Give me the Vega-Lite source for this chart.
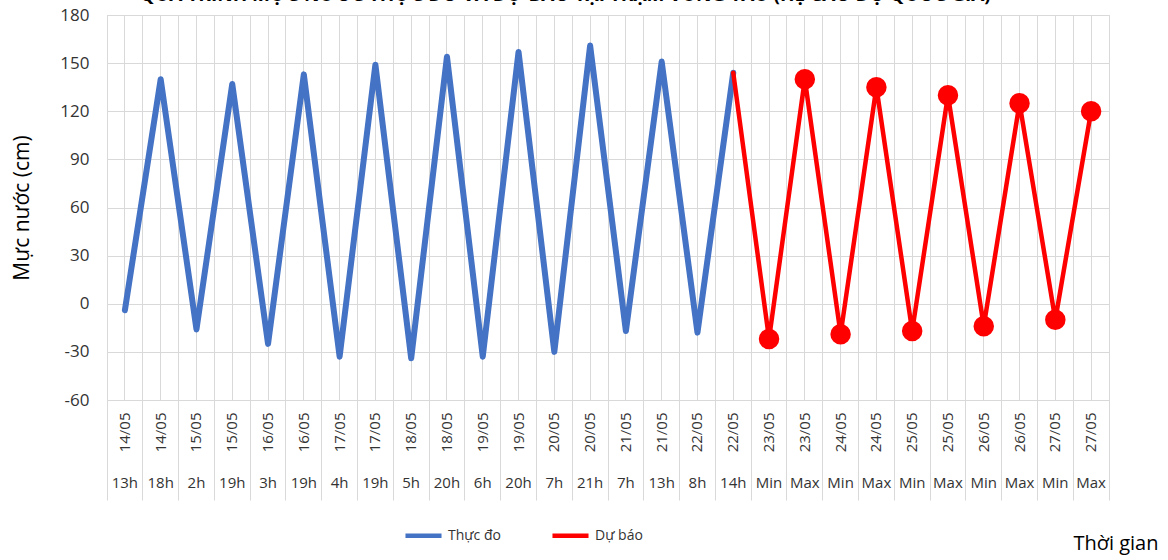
{
  "$schema": "https://vega.github.io/schema/vega-lite/v6.json",
  "width": 1002,
  "height": 385,
  "autosize": {"type": "none"},
  "padding": {"left": 107, "top": 15, "right": 59, "bottom": 160},
  "background": "white",
  "title": {
    "text": "QUÁ TRÌNH MỰC NƯỚC THỰC ĐO VÀ DỰ BÁO TẠI TRẠM VŨNG TÀU (HỆ CAO ĐỘ QUỐC GIA)",
    "anchor": "start",
    "dx": 128,
    "font": "Open Sans",
    "fontSize": 19,
    "fontWeight": "bold",
    "color": "#000000",
    "baseline": "alphabetic",
    "offset": -14
  },
  "data": {
    "values": [
      {"k": "14/05 13h", "measured": -4, "forecast": null},
      {"k": "14/05 18h", "measured": 140, "forecast": null},
      {"k": "15/05 2h", "measured": -16, "forecast": null},
      {"k": "15/05 19h", "measured": 137, "forecast": null},
      {"k": "16/05 3h", "measured": -25, "forecast": null},
      {"k": "16/05 19h", "measured": 143, "forecast": null},
      {"k": "17/05 4h", "measured": -33, "forecast": null},
      {"k": "17/05 19h", "measured": 149, "forecast": null},
      {"k": "18/05 5h", "measured": -34, "forecast": null},
      {"k": "18/05 20h", "measured": 154, "forecast": null},
      {"k": "19/05 6h", "measured": -33, "forecast": null},
      {"k": "19/05 20h", "measured": 157, "forecast": null},
      {"k": "20/05 7h", "measured": -30, "forecast": null},
      {"k": "20/05 21h", "measured": 161, "forecast": null},
      {"k": "21/05 7h", "measured": -17, "forecast": null},
      {"k": "21/05 13h", "measured": 151, "forecast": null},
      {"k": "22/05 8h", "measured": -18, "forecast": null},
      {"k": "22/05 14h", "measured": 144, "forecast": 144},
      {"k": "23/05 Min", "measured": null, "forecast": -22},
      {"k": "23/05 Max", "measured": null, "forecast": 140},
      {"k": "24/05 Min", "measured": null, "forecast": -19},
      {"k": "24/05 Max", "measured": null, "forecast": 135},
      {"k": "25/05 Min", "measured": null, "forecast": -17},
      {"k": "25/05 Max", "measured": null, "forecast": 130},
      {"k": "26/05 Min", "measured": null, "forecast": -14},
      {"k": "26/05 Max", "measured": null, "forecast": 125},
      {"k": "27/05 Min", "measured": null, "forecast": -10},
      {"k": "27/05 Max", "measured": null, "forecast": 120}
    ]
  },
  "layer": [
    {
      "mark": {"type": "line", "strokeWidth": 6, "strokeCap": "round", "strokeJoin": "round"},
      "encoding": {
        "x": {
          "field": "k", "type": "nominal", "sort": null,
          "scale": {"type": "band", "paddingInner": 0, "paddingOuter": 0},
          "axis": {
            "orient": "bottom", "title": null, "ticks": false, "grid": false, "domain": false,
            "labelExpr": "split(datum.value, ' ')[0]", "labelAngle": 270,
            "labelPadding": 12, "labelFontSize": 15, "labelOverlap": false
          }
        },
        "y": {
          "field": "measured", "type": "quantitative",
          "scale": {"domain": [-60, 180], "nice": false, "zero": false},
          "axis": {"values": [-60, -30, 0, 30, 60, 90, 120, 150, 180], "title": "Mực nước (cm)", "labelExpr": "'' + datum.value"}
        },
        "color": {"datum": "Thực đo", "type": "nominal",
          "scale": {"domain": ["Thực đo", "Dự báo"], "range": ["#4472C4", "#FF0000"]}}
      }
    },
    {
      "mark": {"type": "line", "strokeWidth": 4.5, "strokeCap": "round", "strokeJoin": "round"},
      "encoding": {
        "x": {
          "field": "k", "type": "nominal", "sort": null,
          "axis": {
            "orient": "bottom", "title": "Thời gian", "ticks": false, "domain": false,
            "grid": true, "labelExpr": "split(datum.value, ' ')[1]", "labelAngle": 0,
            "labelPadding": 75, "labelBaseline": "top", "labelFontSize": 15, "labelOverlap": false,
            "titleAnchor": "end", "titleAlign": "right", "titleX": 1051, "titleY": 143,
            "titleBaseline": "middle", "titleFontSize": 20, "titleFontWeight": "normal"
          }
        },
        "y": {
          "field": "forecast", "type": "quantitative",
          "axis": {"values": [-60, -30, 0, 30, 60, 90, 120, 150, 180], "title": "Mực nước (cm)", "labelExpr": "'' + datum.value"}
        },
        "color": {"datum": "Dự báo", "type": "nominal"}
      }
    },
    {
      "mark": {"type": "circle", "size": 420, "opacity": 1},
      "encoding": {
        "x": {
          "field": "k", "type": "nominal", "sort": null,
          "axis": {
            "orient": "bottom", "title": null, "labels": false, "ticks": true, "tickSize": 100,
            "bandPosition": 1, "tickExtra": true, "grid": true, "domain": true
          }
        },
        "y": {
          "field": "forecast", "type": "quantitative",
          "axis": {"values": [-60, -30, 0, 30, 60, 90, 120, 150, 180], "title": "Mực nước (cm)", "labelExpr": "'' + datum.value"}
        },
        "color": {"datum": "Dự báo", "type": "nominal"},
        "opacity": {"condition": {"test": "datum.k == '22/05 14h'", "value": 0}, "value": 1}
      }
    }
  ],
  "resolve": {"axis": {"x": "independent"}},
  "config": {
    "view": {"stroke": "#d9d9d9"},
    "font": "Open Sans",
    "axis": {
      "labelFont": "Open Sans", "titleFont": "Open Sans",
      "labelColor": "#333333", "titleColor": "#000000",
      "gridColor": "#d9d9d9", "gridWidth": 1,
      "domainColor": "#d9d9d9", "tickColor": "#d9d9d9", "tickWidth": 1
    },
    "axisY": {
      "ticks": false, "labelPadding": 18, "labelFontSize": 17, "grid": true,
      "titleFontSize": 21, "titleFontWeight": "normal", "titlePadding": 27,
      "domainColor": "#d9d9d9"
    },
    "legend": {
      "orient": "none", "legendX": 296, "legendY": 500, "direction": "horizontal",
      "title": null, "symbolType": "stroke", "symbolStrokeWidth": 4.5, "symbolSize": 1300,
      "labelFont": "Open Sans", "labelFontSize": 14, "labelColor": "#333333",
      "columnPadding": 42, "symbolOpacity": 1
    }
  }
}
